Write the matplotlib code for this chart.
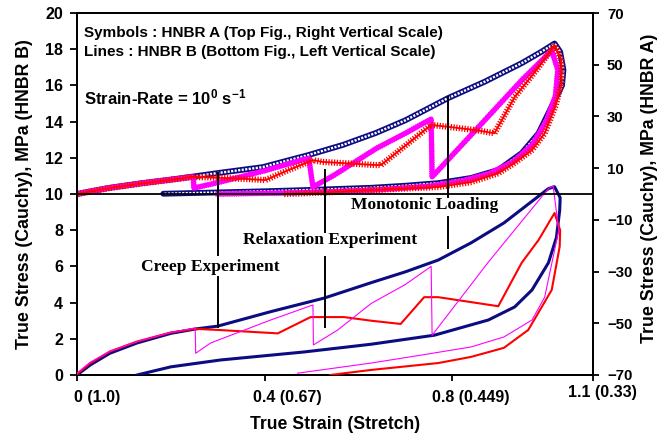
import matplotlib
matplotlib.use('Agg')
import matplotlib.pyplot as plt
from matplotlib import patheffects as pe
from matplotlib.transforms import blended_transform_factory

plt.rcParams['font.family'] = 'Liberation Sans'
plt.rcParams['font.weight'] = 'bold'
plt.rcParams['axes.labelweight'] = 'bold'
plt.rcParams['mathtext.fontset'] = 'custom'
plt.rcParams['mathtext.bf'] = 'Liberation Sans:bold'
plt.rcParams['mathtext.rm'] = 'Liberation Sans:bold'
plt.rcParams['mathtext.default'] = 'bf'

NAVY = '#0c0c82'
RED = '#ff0000'
MAGENTA = '#ff00ff'

# HNBR A (symbols, right scale)
mono_a_x = [0, 0.066, 0.139, 0.21, 0.30, 0.396, 0.494, 0.567, 0.637, 0.70, 0.79, 0.87, 0.948,
            0.99, 1.018, 1.03, 1.037, 1.034, 1.015, 0.984, 0.948, 0.898, 0.84, 0.77, 0.70,
            0.627, 0.50, 0.41, 0.30, 0.184]
mono_a_y = [0, 2.3, 4.2, 5.8, 8.1, 10.4, 15.1, 19.0, 23.6, 28.5, 37.0, 43.5, 50.6,
            55.0, 58.2, 55.0, 48.0, 42.0, 35.0, 23.5, 15.8, 9.3, 6.2, 4.2, 3.2,
            2.4, 1.6, 1.1, 0.6, 0.1]

relax_a_x = [0, 0.066, 0.139, 0.21, 0.246, 0.30, 0.35, 0.402, 0.45, 0.503, 0.524, 0.58,
             0.637, 0.648, 0.70, 0.755, 0.80, 0.85, 0.89, 0.933, 0.984, 1.018, 1.032,
             1.033, 1.02, 0.997, 0.97, 0.933, 0.898, 0.84, 0.77, 0.627, 0.53, 0.44]
relax_a_y = [0, 2.2, 4.1, 5.7, 6.6, 6.3, 5.9, 5.4, 9.2, 13.1, 12.4, 11.8,
             11.2, 11.2, 18.7, 26.7, 25.8, 24.7, 23.5, 37.5, 49.0, 57.6, 52.0,
             43.0, 34.0, 23.5, 17.0, 12.0, 8.0, 4.6, 2.7, 1.5, 0.6, 0]

creep_a_x = [0, 0.066, 0.139, 0.21, 0.248, 0.249, 0.30, 0.40, 0.494, 0.503, 0.55, 0.637,
             0.70, 0.745, 0.755, 0.757, 0.84, 0.948, 1.012, 1.025, 1.02, 1.0, 0.97, 0.93,
             0.88, 0.82, 0.75, 0.65, 0.55, 0.45, 0.30]
creep_a_y = [0, 2.3, 4.2, 5.8, 6.6, 2.3, 4.4, 9.0, 13.9, 2.7, 7.5, 17.5,
             23.5, 28.0, 29.0, 6.6, 22.8, 44.0, 55.5, 48.0, 38.0, 28.0, 19.0, 12.5,
             8.0, 5.0, 3.0, 1.7, 0.9, 0.4, 0]

# HNBR B (lines, left scale)
mono_b_x = [0, 0.028, 0.07, 0.128, 0.2, 0.252, 0.30, 0.413, 0.527, 0.627, 0.70, 0.77,
            0.84, 0.91, 0.97, 1.005, 1.018, 1.03, 1.029, 1.022, 1.005, 0.97, 0.933,
            0.877, 0.762, 0.627, 0.483, 0.306, 0.2, 0.128]
mono_b_y = [0, 0.55, 1.2, 1.77, 2.3, 2.54, 2.7, 3.5, 4.25, 5.1, 5.7, 6.35,
            7.3, 8.4, 9.6, 10.3, 10.4, 9.8, 9.1, 7.6, 6.2, 4.7, 3.76,
            3.04, 2.2, 1.7, 1.27, 0.83, 0.45, 0]

relax_b_x = [0, 0.028, 0.07, 0.128, 0.2, 0.252, 0.30, 0.428, 0.498, 0.569, 0.627, 0.69,
             0.74, 0.77, 0.898, 0.948, 0.984, 1.018, 1.03, 1.029, 1.012, 0.962, 0.91,
             0.84, 0.77, 0.627, 0.54]
relax_b_y = [0.05, 0.65, 1.3, 1.85, 2.35, 2.55, 2.49, 2.3, 3.2, 3.2, 3.0, 2.82,
             4.3, 4.3, 3.8, 6.2, 7.46, 8.95, 8.0, 7.1, 4.7, 2.49, 1.5,
             1.0, 0.66, 0.28, 0]

creep_b_x = [0, 0.028, 0.07, 0.128, 0.2, 0.252, 0.253, 0.285, 0.413, 0.503, 0.504, 0.556,
             0.627, 0.70, 0.755, 0.757, 0.877, 1.005, 1.015, 1.027, 0.997, 0.97, 0.91,
             0.84, 0.734, 0.627, 0.47]
creep_b_y = [0.1, 0.7, 1.3, 1.85, 2.35, 2.6, 1.2, 1.77, 3.04, 3.87, 1.66, 2.49,
             3.95, 5.0, 6.0, 2.2, 6.24, 10.3, 10.45, 8.0, 4.3, 3.04, 2.1,
             1.55, 1.1, 0.66, 0.1]

x_ticks = [0, 0.4, 0.8, 1.1]
x_tick_labels = ['0 (1.0)', '0.4 (0.67)', '0.8 (0.449)', '1.1 (0.33)']
left_ticks = list(range(0, 21, 2))
right_ticks = list(range(-70, 71, 20))

# pointer lines for the annotations: (x, [(y0, y1), ...]) on the left scale
pointers = [
    (0.30, [(11.16, 6.63), (5.41, 2.65)]),
    (0.528, [(11.3, 7.9), (6.5, 2.65)]),
    (0.791, [(15.36, 9.83), (8.73, 7.0)]),
]

fig = plt.figure(figsize=(6.7, 4.38), dpi=100)
ax = fig.add_axes([77 / 670, 63 / 438, 516 / 670, 362 / 438])
ax2 = ax.twinx()
ax.set_zorder(ax2.get_zorder() + 1)
ax.patch.set_visible(False)

# symbols (HNBR A): hollow circles as a dotted band, crosses as ticked strokes
ax2.plot(mono_a_x, mono_a_y, color=NAVY, lw=4.2, solid_joinstyle='round',
         solid_capstyle='round', zorder=2)
ax2.plot(mono_a_x, mono_a_y, color='white', lw=1.7, ls=(0, (0.9, 0.6)), zorder=2.1)


def plus_fx(sp, ln, w):
    return [pe.Normal(),
            pe.TickedStroke(spacing=sp, angle=90, length=ln, linewidth=w),
            pe.TickedStroke(spacing=sp, angle=-90, length=ln, linewidth=w)]


ax2.plot(creep_a_x, creep_a_y, color=MAGENTA, lw=3.6, zorder=3,
         path_effects=plus_fx(1.6, 1.0, 0.8))
ax2.plot(relax_a_x, relax_a_y, color=RED, lw=1.3, zorder=4,
         path_effects=plus_fx(2.0, 0.9, 0.9))

# lines (HNBR B)
ax.plot(mono_b_x, mono_b_y, color=NAVY, lw=2.2, zorder=3)
ax.plot(relax_b_x, relax_b_y, color=RED, lw=1.5, zorder=4)
ax.plot(creep_b_x, creep_b_y, color=MAGENTA, lw=0.8, zorder=5)
ax.axhline(10, color='black', lw=1.3, zorder=6)

for px, segs in pointers:
    for y0, y1 in segs:
        ax.plot([px, px], [y0, y1], color='black', lw=1.4, zorder=6)

ax.set_xlim(0, 1.1)
ax.set_ylim(0, 20)
ax2.set_ylim(-70, 70)

ax.set_xticks(x_ticks)
ax.set_xticklabels([])
ax.set_yticks(left_ticks)
ax2.set_yticks(right_ticks)
ax.tick_params(axis='y', direction='out', length=5, width=1.3, pad=5, labelsize=11.5)
ax.tick_params(axis='x', direction='out', length=4, width=1.3)
ax2.tick_params(axis='y', direction='out', length=4, width=1.3, pad=6, labelsize=10.8)
for lab in ax.get_yticklabels() + ax2.get_yticklabels():
    lab.set_fontweight('bold')
for a in (ax, ax2):
    for s in a.spines.values():
        s.set_linewidth(1.4)

trans = blended_transform_factory(ax.transData, ax.transAxes)
label_dx = [0.043, 0.048, 0.040, 0.020]
label_y = [-0.061, -0.061, -0.061, -0.048]
for xt, lab, dx, ly in zip(x_ticks, x_tick_labels, label_dx, label_y):
    ax.text(xt + dx, ly, lab, transform=trans, ha='center', va='center',
            fontsize=11.5, fontweight='bold')

ax.set_xlabel('True Strain (Stretch)', fontsize=12.7, fontweight='bold', va='center')
ax.xaxis.set_label_coords(0.5, -0.138)
ax.set_ylabel('True Stress (Cauchy), MPa (HNBR B)', fontsize=12.8, fontweight='bold', va='center')
ax.yaxis.set_label_coords(-0.101, 0.5)
ax2.set_ylabel('True Stress (Cauchy), MPa (HNBR A)', fontsize=12.8, fontweight='bold',
               va='center', rotation=90)
ax2.yaxis.set_label_coords(1.110, 0.515)

ax.text(0.015, 18.9, 'Symbols : HNBR A (Top Fig., Right Vertical Scale)', fontsize=11,
        fontweight='bold', va='center')
ax.text(0.015, 17.85, 'Lines : HNBR B (Bottom Fig., Left Vertical Scale)', fontsize=11,
        fontweight='bold', va='center')
ax.text(0.015, 15.36, r'Strain-Rate = 10$^{0}$ s$^{-1}$', fontsize=12,
        fontweight='bold', va='center')

serif = dict(family='Liberation Serif', fontweight='bold', fontsize=12.6, ha='center', va='center')
ax.text(0.740, 9.39, 'Monotonic Loading', **serif)
ax.text(0.539, 7.46, 'Relaxation Experiment', **serif)
ax.text(0.2845, 5.97, 'Creep Experiment', **serif)

fig.savefig('out.png', dpi=100)
